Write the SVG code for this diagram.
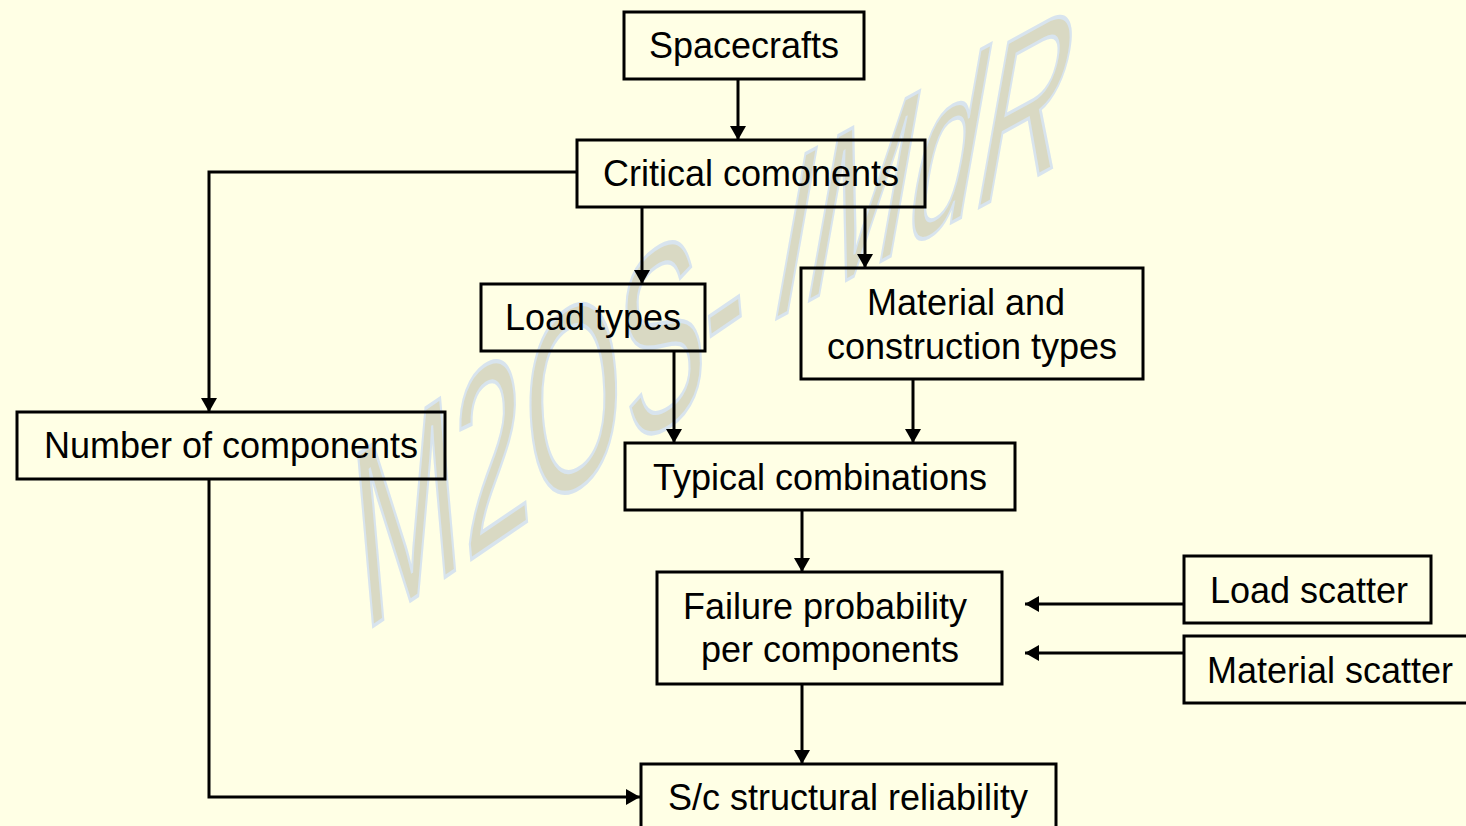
<svg xmlns="http://www.w3.org/2000/svg" width="1466" height="826" viewBox="0 0 1466 826">
  <defs>
    <marker id="arrow" markerUnits="userSpaceOnUse" markerWidth="16" markerHeight="18" refX="14" refY="8" orient="auto">
      <path d="M0,0 L14,8 L0,16 Z" fill="#000"/>
    </marker>
    <style>
      .box { fill: none; stroke: #000; stroke-width: 3; }
      .lbl { font-family: "Liberation Sans", Arial, sans-serif; font-size: 36px; fill: #000; text-anchor: middle; }
      .wire { fill: none; stroke: #000; stroke-width: 3; }
      .mark { font-family: "Liberation Sans", Arial, sans-serif; fill: #D9D9C3; stroke: #D8E4EE; stroke-width: 4; }
    </style>
  </defs>

  <rect x="0" y="0" width="1466" height="826" fill="#FFFFE5"/>

  <!-- slanted background watermark -->
  <g id="watermark">
    <text class="mark" font-size="250" transform="matrix(0.49,-0.334,0.087,1,363,633)">M2OS-</text>
    <text class="mark" font-size="240" transform="matrix(0.51,-0.28,-0.176,1,765,325)">IMdR</text>
  </g>

  <!-- connectors -->
  <g id="connectors">
    <path class="wire" d="M738,79 V140" marker-end="url(#arrow)"/>
    <path class="wire" d="M577,172 H209 V412" marker-end="url(#arrow)"/>
    <path class="wire" d="M642,207 V284" marker-end="url(#arrow)"/>
    <path class="wire" d="M865,207 V268" marker-end="url(#arrow)"/>
    <path class="wire" d="M674,351 V443" marker-end="url(#arrow)"/>
    <path class="wire" d="M913,379 V443" marker-end="url(#arrow)"/>
    <path class="wire" d="M802,510 V572" marker-end="url(#arrow)"/>
    <path class="wire" d="M1184,604 H1025" marker-end="url(#arrow)"/>
    <path class="wire" d="M1184,653 H1025" marker-end="url(#arrow)"/>
    <path class="wire" d="M802,684 V764" marker-end="url(#arrow)"/>
    <path class="wire" d="M209,479 V797 H640" marker-end="url(#arrow)"/>
  </g>

  <g id="spacecrafts">
    <rect class="box" x="624" y="12" width="240" height="67"/>
    <text class="lbl" x="744" y="58">Spacecrafts</text>
  </g>

  <g id="critical-components">
    <rect class="box" x="577" y="140" width="348" height="67"/>
    <text class="lbl" x="751" y="186">Critical comonents</text>
  </g>

  <g id="number-of-components">
    <rect class="box" x="17" y="412" width="428" height="67"/>
    <text class="lbl" x="231" y="458">Number of components</text>
  </g>

  <g id="load-types">
    <rect class="box" x="481" y="284" width="224" height="67"/>
    <text class="lbl" x="593" y="330">Load types</text>
  </g>

  <g id="material-construction">
    <rect class="box" x="801" y="268" width="342" height="111"/>
    <text class="lbl" x="966" y="315">Material and</text>
    <text class="lbl" x="972" y="359">construction types</text>
  </g>

  <g id="typical-combinations">
    <rect class="box" x="625" y="443" width="390" height="67"/>
    <text class="lbl" x="820" y="490">Typical combinations</text>
  </g>

  <g id="failure-probability">
    <rect class="box" x="657" y="572" width="345" height="112"/>
    <text class="lbl" x="825" y="619">Failure probability</text>
    <text class="lbl" x="830" y="662">per components</text>
  </g>

  <g id="load-scatter">
    <rect class="box" x="1184" y="556" width="247" height="67"/>
    <text class="lbl" x="1309" y="603">Load scatter</text>
  </g>

  <g id="material-scatter">
    <rect class="box" x="1184" y="636" width="292" height="67"/>
    <text class="lbl" x="1330" y="683">Material scatter</text>
  </g>

  <g id="sc-reliability">
    <rect class="box" x="641" y="764" width="415" height="80"/>
    <text class="lbl" x="848" y="810">S/c structural reliability</text>
  </g>
</svg>
